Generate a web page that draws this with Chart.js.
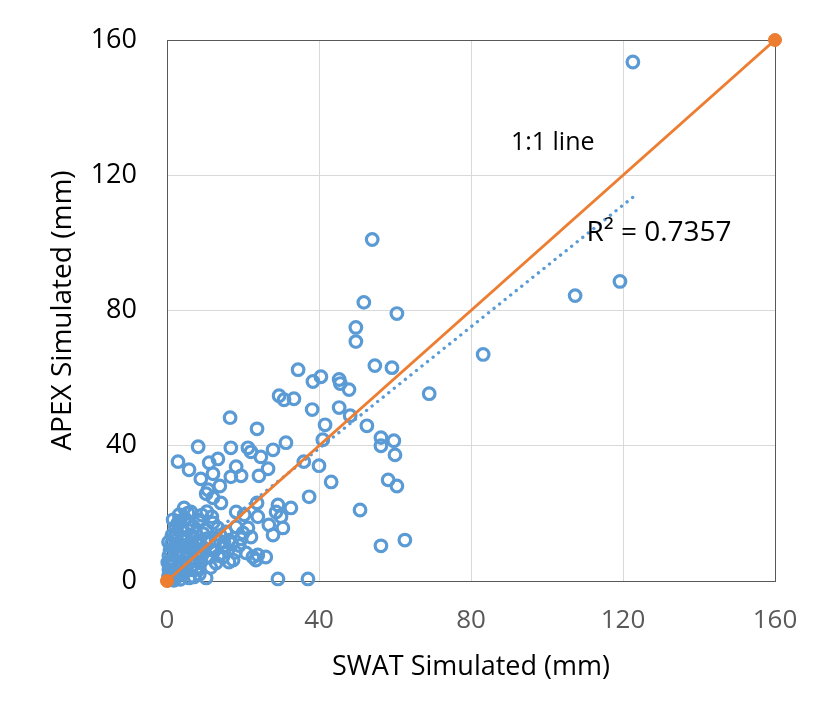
<!DOCTYPE html>
<html>
<head>
<meta charset="utf-8">
<script src="https://cdn.jsdelivr.net/npm/chart.js@4"></script>
<style>
  html, body { margin: 0; padding: 0; background: #fff; }
  #wrap { width: 814px; height: 715px; position: relative; }
</style>
</head>
<body>
<div id="wrap"><canvas id="chart" width="814" height="715"></canvas></div>
<script>
// SWAT vs APEX simulated values (mm)
const swatSim = [
  122.6, 119.2, 107.4, 83.2, 69, 54, 51.8, 60.5, 49.7, 49.7, 54.7, 59.2,
  34.5, 40.5, 38.4, 45.3, 45.6, 47.9, 29.5, 30.8, 33.4, 38.2, 45.3, 48.2,
  52.6, 16.6, 23.7, 41.6, 41, 31.3, 56.3, 59.7, 56.3, 60, 36, 40,
  58.2, 60.5, 43.2, 37.4, 50.8, 56.3, 62.6, 29.2, 37.1,
  8.2, 16.8, 21.3, 22.1, 24.7, 27.9, 2.9, 5.8, 11.1, 13.4, 18.2, 19.5,
  16.8, 12.1, 8.9, 24.2, 26.6, 13.9, 10.8, 10.3, 14.2, 12.1, 4.5, 18.2,
  20.3, 23.7, 29.2, 28.7, 32.6, 30, 26.8, 30.5, 27.9, 23.9, 21.3, 22.1,
  23.9, 26, 22.6, 16.3, 13.4, 8.4, 5.5,
  6.3, 8.4, 2.9, 2.4, 5.5, 7.6, 11.1, 14.7, 17.4, 9.5, 12.9, 4.2,
  1.1, 0.5, 5.8, 10.3, 5.8, 3.2, 7.6, 14.7, 18.2, 20, 20.8, 23.4,
  16.3, 12.1, 7.1, 1.6, 1.1, 2.4, 3.7, 5, 6.3, 7.6, 8.9, 5,
  3.2, 1.6, 2.6, 6.8, 8.9, 11.6, 12.9, 10.3, 3.7, 1, 0.3, 0.8,
  2.6, 4.5, 6.3, 1.6, 3.2, 0.2, 0.4, 2,
  0.5, 0.8, 1.2, 2, 0.6, 1.5, 2.5, 3.5, 4, 4.8, 5.5, 6,
  6.5, 7, 7.5, 8, 8.5, 9, 9.8, 10.5, 11, 11.5, 12.5, 13.5,
  14, 15, 15.5, 16, 17, 18, 19, 19.5, 2.2, 3.5, 4.7, 6,
  9.2, 10.5, 11.8, 1.3, 0.4, 3, 4, 5.2, 7, 8.2, 9.5, 0.9,
  1.8, 2.8
];
const apexSim = [
  153.5, 88.6, 84.4, 67, 55.4, 101, 82.4, 79.1, 75, 70.8, 63.7, 63.1,
  62.5, 60.4, 59, 59.6, 58.4, 56.6, 54.8, 53.6, 53.9, 50.7, 51.3, 48.9,
  45.9, 48.3, 45, 46.2, 41.8, 40.9, 42.4, 41.5, 40, 37.3, 35.3, 34.1,
  29.9, 28.1, 29.3, 24.9, 21, 10.4, 12.1, 0.6, 0.6,
  39.7, 39.4, 39.4, 38.2, 36.7, 38.8, 35.3, 32.9, 35, 36.1, 33.8, 31.1,
  30.8, 31.7, 30.2, 31.1, 33.2, 28.1, 27, 25.8, 23.1, 24.6, 21.6, 20.4,
  19.6, 23.1, 22.5, 20.4, 21.6, 19, 16.6, 15.7, 13.6, 19, 15.7, 13,
  7.7, 7.1, 7.1, 5.6, 15.7, 17.5, 20.1,
  20.4, 18.1, 17.2, 14.2, 15.1, 14.2, 11.3, 7.1, 6.2, 8.3, 5.3, 8.3,
  6.2, 3.3, 5.3, 0.9, 0.9, 2.4, 3.3, 10.1, 16, 14.2, 8.3, 6.2,
  12.1, 17.2, 1.2, 1.8, 4.7, 7.7, 10.7, 12.1, 9.8, 7.7, 5.6, 4.7,
  6.8, 9.8, 12.1, 12.7, 10.7, 9.2, 12.1, 15.1, 15.1, 0.9, 0.3, 2.4,
  3.9, 2.7, 3.3, 18.1, 19.6, 5.5, 1.5, 0.5,
  7.5, 9, 11, 13, 5, 3, 1.2, 0.5, 4.5, 6.5, 8.5, 11,
  13.5, 16, 6, 4, 2, 7, 9.5, 12.5, 7, 4, 9, 7.5,
  13.5, 11.5, 14.5, 9, 11, 8.5, 10.5, 12.5, 16, 17.8, 18.5, 17,
  19.5, 20.5, 19, 13.5, 11.5, 9, 13, 10.5, 10, 12, 14, 0.4,
  0.2, 2.2
];

// linear trendline ends and 1:1 line ends
const trendX = [0, 122.6];
const trendY = [3.2, 113.5];
const oneToOneX = [0, 160];
const oneToOneY = [0, 160];

const axisTicks = [0, 40, 80, 120, 160];

const blue = '#5B9BD5';
const orange = '#ED7D31';
const fontFam = '"Open Sans", "Liberation Sans", sans-serif';

function pts(xs, ys) {
    return xs.map((x, i) => ({ x: x, y: ys[i] }));
}

// plot area frame, axis titles and text notes
const extras = {
    id: 'extras',
    beforeDatasetsDraw(chart) {
        const ctx = chart.ctx;
        const a = chart.chartArea;
        ctx.save();
        ctx.strokeStyle = '#595959';
        ctx.lineWidth = 1;
        ctx.strokeRect(Math.round(a.left) + 0.5, Math.round(a.top) + 0.5,
            Math.round(a.right - a.left), Math.round(a.bottom - a.top));
        ctx.restore();
    },
    afterDatasetsDraw(chart) {
        const ctx = chart.ctx;
        const xs = chart.scales.x, ys = chart.scales.y;
        ctx.save();
        ctx.fillStyle = '#000';
        ctx.font = '25px ' + fontFam;
        ctx.textAlign = 'center';
        ctx.textBaseline = 'middle';
        ctx.fillText('1:1 line', xs.getPixelForValue(101.5), ys.getPixelForValue(129.5));
        ctx.font = '28px ' + fontFam;
        ctx.fillText('R² = 0.7357', xs.getPixelForValue(129.5), ys.getPixelForValue(103));
        ctx.restore();
    },
    afterDraw(chart) {
        const ctx = chart.ctx;
        const a = chart.chartArea;
        ctx.save();
        ctx.fillStyle = '#000';
        ctx.font = '27px ' + fontFam;
        ctx.textAlign = 'center';
        ctx.textBaseline = 'middle';
        ctx.fillText('SWAT Simulated (mm)', (a.left + a.right) / 2, 667);
        ctx.font = '28px ' + fontFam;
        ctx.translate(63, (a.top + a.bottom) / 2);
        ctx.rotate(-Math.PI / 2);
        ctx.fillText('APEX Simulated (mm)', 0, 0);
        ctx.restore();
    }
};

new Chart(document.getElementById('chart'), {
    type: 'scatter',
    data: {
        datasets: [
            {
                label: 'Simulated',
                data: pts(swatSim, apexSim),
                pointStyle: 'circle',
                pointRadius: 5.8,
                pointBorderWidth: 3.2,
                pointBorderColor: blue,
                pointBackgroundColor: 'rgba(0,0,0,0)',
                showLine: false,
                clip: false,
                order: 3
            },
            {
                label: 'Trend',
                type: 'line',
                data: pts(trendX, trendY),
                borderColor: blue,
                borderWidth: 3.3,
                borderDash: [0.1, 7],
                borderCapStyle: 'round',
                pointRadius: 0,
                fill: false,
                order: 2
            },
            {
                label: '1:1',
                type: 'line',
                data: pts(oneToOneX, oneToOneY),
                borderColor: orange,
                borderWidth: 3,
                pointRadius: 6.5,
                pointBorderWidth: 1,
                pointBackgroundColor: orange,
                pointBorderColor: orange,
                fill: false,
                clip: false,
                order: 1
            }
        ]
    },
    options: {
        responsive: false,
        animation: false,
        layout: { padding: { top: 40, right: 39, bottom: 0, left: 0 } },
        plugins: {
            legend: { display: false },
            tooltip: { enabled: false }
        },
        scales: {
            x: {
                type: 'linear',
                min: 0,
                max: 160,
                afterBuildTicks: s => { s.ticks = axisTicks.map(v => ({ value: v })); },
                afterFit: s => {
                    s.height = 134;
                    s.paddingLeft = 0; s.paddingRight = 0;
                },
                ticks: { color: '#595959', font: { size: 26, family: fontFam }, padding: 24, maxRotation: 0 },
                grid: { color: '#d9d9d9', drawTicks: false },
                border: { display: false }
            },
            y: {
                type: 'linear',
                min: 0,
                max: 160,
                afterBuildTicks: s => { s.ticks = axisTicks.map(v => ({ value: v })); },
                afterFit: s => {
                    s.width = 167;
                    s.paddingTop = 0; s.paddingBottom = 0;
                },
                ticks: { color: '#000', font: { size: 27, family: fontFam }, padding: 30 },
                grid: { color: '#d9d9d9', drawTicks: false },
                border: { display: false }
            }
        }
    },
    plugins: [extras]
});
</script>
</body>
</html>
